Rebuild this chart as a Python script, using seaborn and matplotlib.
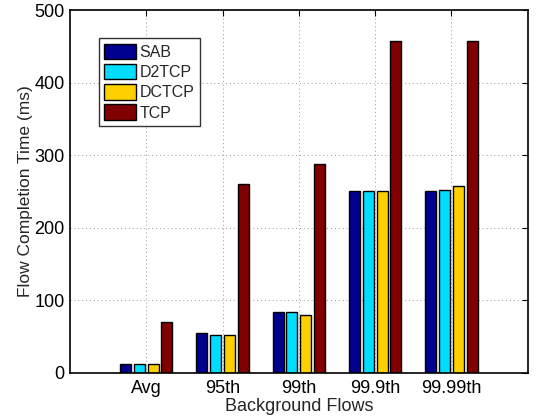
import matplotlib
matplotlib.use("Agg")
import matplotlib.pyplot as plt
import seaborn as sns
import pandas as pd

categories = ["Avg", "95th", "99th", "99.9th", "99.99th"]
schemes = ["SAB", "D2TCP", "DCTCP", "TCP"]
sab = [12, 55, 84, 251, 251]
d2tcp = [12.5, 53, 84, 251, 252]
dctcp = [12, 53, 80, 251, 257]
tcp = [70, 260, 288, 457, 457]
colors = ["#00008F", "#00DDFF", "#FFD000", "#800000"]

rows = []
for name, vals in zip(schemes, [sab, d2tcp, dctcp, tcp]):
    for cat, v in zip(categories, vals):
        rows.append({"Background Flows": cat, "Scheme": name, "FCT": v})
df = pd.DataFrame(rows)

sns.set_style("white")
plt.rcParams["font.family"] = ["Liberation Sans", "DejaVu Sans"]

fig = plt.figure(figsize=(5.38, 4.19), dpi=100)
ax = fig.add_axes([0.130, 0.1098, 0.851, 0.866])

sns.barplot(data=df, x="Background Flows", y="FCT", hue="Scheme",
            hue_order=schemes, order=categories, palette=colors,
            width=0.72, gap=0.2, edgecolor="black", linewidth=1.0,
            saturation=1, errorbar=None, ax=ax)

ax.set_xlim(-1, 5)
ax.set_ylim(0, 500)
ax.set_yticks([0, 100, 200, 300, 400, 500])
ax.set_axisbelow(True)
ax.grid(True, linestyle=(0, (1, 3)), color="#999999", linewidth=0.7)

for s in ax.spines.values():
    s.set_visible(True)
    s.set_color("black")
    s.set_linewidth(1.2)
ax.tick_params(direction="in", length=4, width=0.8, top=True, right=True,
               labelsize=13, colors="black", pad=4)
ax.tick_params(axis="x", pad=5)

ax.set_xlabel("Background Flows", fontsize=13, labelpad=0.5)
ax.set_ylabel("Flow Completion Time (ms)", fontsize=12.5, labelpad=1)

leg = ax.legend(loc="upper left", bbox_to_anchor=(0.063, 0.923),
                borderaxespad=0, fontsize=11.5, frameon=True, fancybox=False,
                handlelength=2.0, handleheight=1.1, labelspacing=0.26,
                handletextpad=0.2, borderpad=0.35, title=None)
leg.get_frame().set_edgecolor("black")
leg.get_frame().set_linewidth(1.0)

fig.savefig("out.png", dpi=100)
